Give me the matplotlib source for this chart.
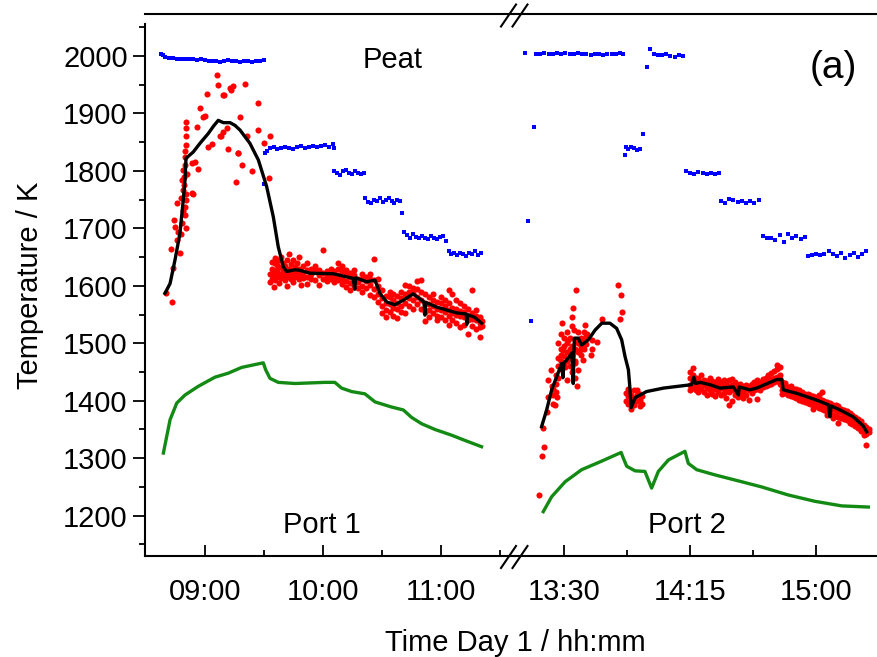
import matplotlib
matplotlib.use("Agg")
import matplotlib.pyplot as plt
from matplotlib.lines import Line2D
from matplotlib.ticker import FixedLocator, MultipleLocator, FuncFormatter

plt.rcParams['font.family'] = ['Liberation Sans', 'DejaVu Sans']

# all times are minutes after midnight, temperatures in K

# ---- port 1 (left part of the broken axis) ----
blue_left = [
    (518, 2004), (519, 2001), (520, 1999), (522, 1997), (524, 1996), (526, 1995),
    (528, 1995), (530, 1994), (532, 1995), (534, 1994), (536, 1993), (538, 1994),
    (540, 1993), (542, 1992), (544, 1991), (546, 1992), (548, 1990), (550, 1991),
    (552, 1993), (554, 1992), (556, 1991), (558, 1990), (560, 1992), (562, 1991),
    (564, 1990), (566, 1992), (568, 1991), (570, 1993),
    (570.7, 1831), (570.2, 1777),
    (571.5, 1835), (573, 1840), (575, 1841), (577, 1839), (579, 1840), (581, 1842),
    (583, 1840), (585, 1838), (587, 1841), (589, 1843), (591, 1840), (593, 1842),
    (595, 1844), (597, 1841), (599, 1843), (601, 1845), (603, 1842), (605, 1846),
    (606, 1840),
    (606, 1800), (607.5, 1797), (609, 1793), (610.5, 1799), (612, 1802), (613.5, 1796),
    (615, 1795), (616.5, 1799), (618, 1797), (619.5, 1794), (621, 1796),
    (621.5, 1752), (623, 1746), (624.5, 1744), (626, 1750), (627.5, 1748), (629, 1752),
    (630.5, 1746), (632, 1749), (633.5, 1753), (635, 1747), (636.5, 1745), (638, 1750),
    (639.5, 1748), (640.5, 1727),
    (641.5, 1693), (643, 1688), (644.5, 1684), (646, 1690), (647.5, 1685), (649, 1683),
    (650.5, 1687), (652, 1684), (653.5, 1682), (655, 1686), (656.5, 1684), (658, 1681),
    (659.5, 1685), (661, 1687), (662.5, 1678),
    (664, 1660), (665.5, 1655), (667, 1657), (668.5, 1653), (670, 1658), (671.5, 1656),
    (673, 1652), (674.5, 1657), (676, 1655), (677.5, 1660), (679, 1654), (680.5, 1657),
]

red_left_rise = [
    (520.2, 1587), (523.5, 1572), (524, 1631), (522.9, 1664), (527.4, 1658), (524.9, 1703),
    (524.5, 1715), (526.6, 1694), (525.8, 1744), (528, 1752), (528.3, 1784), (529.1, 1767),
    (530, 1738), (530, 1723), (530.3, 1749), (533.9, 1759), (529.1, 1802), (530, 1834),
    (530.3, 1860), (530.3, 1874), (530.3, 1886), (535.1, 1815), (536.7, 1803), (535.9, 1877),
    (537.6, 1909), (540.2, 1896), (541, 1934), (541.8, 1842), (543.6, 1846), (548.3, 1860),
    (549.5, 1868), (551.2, 1874), (549.8, 1932), (553.4, 1941), (552, 1838), (556.8, 1832),
    (558.8, 1810), (555.8, 1781), (557.9, 1894), (561.4, 1861), (563.9, 1799), (566.9, 1918),
    (567.3, 1872), (570.3, 1849), (573.2, 1861), (572.7, 1787), (546.1, 1967), (546.9, 1950),
    (552.9, 1944), (554.5, 1947), (549.5, 1932), (560.5, 1951), (539.3, 1894), (547.8, 1860),
    (557.1, 1831), (533.4, 1813), (533.4, 1761), (529.5, 1790), (529.8, 1810),
    (530.2, 1825), (530.5, 1845), (529.6, 1775), (529.2, 1730), (530.4, 1700), (528.5, 1710),
    (527.8, 1690), (526, 1680), (530.6, 1760), (531, 1795),
]

# dense cloud after the drop: (time, values at that time)
red_left_cloud = [
    (573, [1607, 1620]), (574, [1612, 1630, 1642]), (575, [1619, 1598, 1625]),
    (576, [1639, 1610, 1622, 1648]), (577, [1628, 1615, 1636]), (578, [1620, 1645, 1605]),
    (579, [1613, 1632, 1651]), (580, [1626, 1618, 1640]), (581, [1634, 1610, 1622]),
    (582, [1625, 1645, 1615, 1600]), (583, [1630, 1620, 1655]), (584, [1618, 1638, 1612]),
    (585, [1627, 1645, 1606]), (586, [1622, 1633, 1615]), (587, [1640, 1618, 1628]),
    (588, [1612, 1630, 1650]), (589, [1625, 1619, 1602]), (590, [1635, 1622, 1613]),
    (592, [1628, 1616, 1640, 1604]), (594, [1620, 1630, 1612]), (596, [1625, 1610, 1635]),
    (598, [1618, 1602, 1628]), (600, [1622, 1662, 1612]), (602, [1626, 1615, 1608]),
    (604, [1620, 1612, 1630]), (606, [1616, 1625, 1606]), (608, [1618, 1610, 1630, 1640]),
    (610, [1612, 1625, 1604, 1635]), (612, [1620, 1608, 1628, 1598]),
    (614, [1615, 1605, 1622, 1592]), (616, [1610, 1618, 1600, 1628]), (618, [1606, 1612, 1596]),
    (620, [1612, 1600, 1620, 1590]), (622, [1608, 1596, 1616]), (624, [1602, 1584, 1612, 1620]),
    (626, [1595, 1610, 1646, 1580]), (628, [1585, 1600, 1572, 1612]),
    (630, [1578, 1565, 1592, 1552]), (632, [1570, 1582, 1558, 1545]),
    (634, [1568, 1581, 1555, 1590]), (636, [1562, 1575, 1548, 1585]),
    (638, [1570, 1544, 1582, 1560]), (640, [1578, 1565, 1590, 1555]),
    (642, [1585, 1601, 1570, 1552]), (644, [1590, 1578, 1600, 1565]),
    (646, [1588, 1575, 1596, 1560]), (648, [1580, 1595, 1568, 1608]),
    (650, [1576, 1590, 1560, 1610]), (652, [1570, 1585, 1555, 1538]),
    (654, [1568, 1580, 1558, 1545]), (656, [1565, 1575, 1552, 1585]),
    (658, [1560, 1572, 1548, 1540]), (660, [1558, 1570, 1545, 1580]),
    (662, [1555, 1565, 1540, 1575]), (664, [1558, 1548, 1570, 1593, 1532]),
    (666, [1552, 1562, 1540, 1585]), (668, [1550, 1560, 1535, 1575]),
    (670, [1548, 1556, 1529, 1570]), (672, [1545, 1555, 1532, 1565]),
    (674, [1548, 1540, 1560, 1517]), (676, [1542, 1552, 1530, 1593]),
    (678, [1540, 1548, 1525, 1558]), (680, [1535, 1545, 1511, 1528]), (681, [1538, 1530]),
]

black_left = [
    (519.8, 1587), (522.4, 1604), (524.9, 1645), (527.4, 1691), (529.1, 1749), (530, 1784),
    (530.5, 1822), (534.2, 1833), (537.6, 1848), (541.8, 1865), (544.5, 1878), (546.9, 1888),
    (549.5, 1884), (552.9, 1884), (555.5, 1879), (558, 1871), (563, 1848), (567.3, 1819),
    (571.5, 1773), (574.9, 1720), (577.4, 1668), (580, 1633), (581.7, 1625), (586, 1628),
    (588.4, 1627), (593.5, 1622), (605.4, 1621), (615.5, 1613), (616.3, 1594), (616.8, 1614),
    (622.4, 1607), (626.6, 1610), (629.1, 1587), (632.5, 1572), (636.7, 1567), (641, 1575),
    (646, 1586), (651.5, 1572), (652, 1549), (652.5, 1571), (658, 1563), (663, 1558),
    (668, 1553), (673, 1551), (673.3, 1533), (673.6, 1550), (677.4, 1545), (680.8, 1535),
]

green_left = [
    (519, 1309), (522.4, 1367), (525.8, 1396), (530, 1410), (536.7, 1425), (545.2, 1441),
    (552, 1448), (558.8, 1458), (565.6, 1463), (569.8, 1466), (571, 1454), (573.2, 1439),
    (577.4, 1432), (585.9, 1430), (601.2, 1432), (606.2, 1432), (609.6, 1422), (614.7, 1416),
    (621.5, 1412), (626.6, 1398), (635.1, 1389), (641, 1384), (645.2, 1371), (650.3, 1360),
    (657.1, 1350), (665.6, 1340), (672.3, 1331), (680.8, 1320),
]

# ---- port 2 (right part) ----
blue_right = [
    (796.1, 2006), (799.4, 1877), (797, 1713), (798.2, 1539),
    (800, 2004), (801.5, 2003), (803, 2005), (804.5, 2004), (806, 2003), (807.5, 2005),
    (809, 2004), (810.5, 2006), (812, 2003), (813.5, 2004), (815, 2005), (816.5, 2003),
    (818, 2004), (819.5, 2002), (821, 2003), (822.5, 2004), (824, 2002), (825.5, 2003),
    (827, 2004), (828.5, 2003), (830, 2005), (831, 2004),
    (831.8, 1828), (832, 1841), (833, 1838), (834, 1842), (835, 1840), (836, 1837), (837, 1839),
    (838.1, 1864), (839.5, 1980), (840.7, 2012),
    (842, 2004), (843.5, 2002), (845, 2001), (846.5, 2003), (848, 2000), (849.5, 1999),
    (851, 2001), (852.5, 2000),
    (853.5, 1800), (855, 1797), (856.5, 1795), (858, 1798), (859.5, 1796), (861, 1794),
    (862.5, 1797), (864, 1795), (865.5, 1796),
    (866, 1748), (867.5, 1745), (869, 1751), (870.5, 1749), (872, 1746), (873.5, 1748),
    (875, 1744), (876.5, 1747), (878, 1745), (879.5, 1749),
    (881, 1686), (882.5, 1683), (884, 1684), (885.5, 1680), (887, 1689), (888.5, 1677),
    (890, 1691), (891.5, 1684), (893, 1687), (894.5, 1682), (896, 1685),
    (897, 1652), (898.5, 1654), (900, 1655), (901.5, 1653), (903, 1656), (904.5, 1661),
    (906, 1655), (907.5, 1652), (909, 1657), (910.5, 1649), (912, 1654), (913.5, 1658),
    (915, 1651), (916.5, 1655), (918, 1660),
]

red_right_rise = [
    (801.2, 1236), (802, 1303), (802.6, 1352), (802.8, 1320), (803.8, 1381), (804.4, 1436),
    (804.4, 1407), (805.6, 1425), (805.4, 1454), (806.8, 1393), (807.4, 1407), (808, 1500),
    (809, 1517), (809.4, 1535), (809.8, 1488), (810.4, 1459), (811, 1436), (811.5, 1506),
    (812.8, 1546), (813.3, 1561), (814.2, 1593), (813.7, 1523), (813.9, 1465), (814.5, 1425),
    (815.1, 1454), (815.7, 1488), (816.9, 1471), (817.5, 1532), (818.1, 1517), (819.6, 1480),
    (821.7, 1503), (823.5, 1543), (829.4, 1601), (830.4, 1584), (830.8, 1555), (830, 1543),
]

red_right_cloud = [
    (806, [1395, 1410, 1420]), (807, [1430, 1445, 1415]), (808, [1460, 1440, 1475]),
    (809, [1470, 1490, 1455, 1480]), (810, [1478, 1495, 1465, 1510]),
    (811, [1485, 1470, 1500, 1520]), (812, [1490, 1475, 1510, 1460]),
    (813, [1495, 1480, 1530, 1450]), (814, [1505, 1490, 1470, 1440]),
    (815, [1500, 1520, 1485]), (816, [1510, 1495, 1480]), (817, [1505, 1520, 1490]),
    (818, [1498, 1512]), (820, [1505, 1490]),
    (832, [1413, 1400]), (833, [1395, 1408, 1420]), (834, [1398, 1385, 1410]),
    (835, [1405, 1392, 1418]), (836, [1419, 1400, 1410]), (837, [1401, 1412, 1390]),
    (838, [1408, 1395]),
    (855, [1428, 1440, 1418, 1450]), (856, [1435, 1422, 1445, 1457]), (857, [1430, 1418, 1440]),
    (858, [1425, 1438, 1415]), (859, [1432, 1420, 1444]), (860, [1428, 1415, 1436]),
    (861, [1422, 1434, 1410]), (862, [1430, 1418, 1440]), (863, [1425, 1412, 1435]),
    (864, [1420, 1432, 1408]), (865, [1428, 1416, 1438]), (866, [1422, 1410, 1432]),
    (867, [1426, 1414, 1436]), (868, [1420, 1430, 1405]), (869, [1425, 1415, 1436, 1393]),
    (870, [1428, 1418, 1438, 1400]), (871, [1422, 1432, 1410]), (872, [1418, 1428, 1406]),
    (873, [1420, 1412, 1430]), (874, [1416, 1425, 1405]), (875, [1420, 1410, 1428]),
    (876, [1418, 1426, 1402]), (877, [1422, 1414, 1430]), (878, [1425, 1418, 1432]),
    (879, [1428, 1420, 1436, 1403]), (880, [1426, 1432, 1418]), (881, [1430, 1424, 1438]),
    (882, [1432, 1426, 1440]), (883, [1435, 1428, 1445]), (884, [1438, 1430, 1448]),
    (885, [1440, 1432, 1452]), (886, [1442, 1435, 1455, 1462]), (887, [1438, 1445, 1430, 1458]),
    (888, [1425, 1418, 1432, 1412]), (889, [1420, 1414, 1428, 1431]), (890, [1416, 1410, 1424]),
    (891, [1418, 1408, 1425]), (892, [1414, 1406, 1420]), (893, [1412, 1405, 1420]),
    (894, [1410, 1402, 1418]), (895, [1408, 1400, 1416]), (896, [1405, 1398, 1412]),
    (897, [1404, 1396, 1412]), (898, [1402, 1394, 1410]), (899, [1400, 1392, 1408, 1385]),
    (900, [1398, 1390, 1406]), (901, [1396, 1388, 1404, 1410]), (902, [1394, 1386, 1402, 1416]),
    (903, [1392, 1384, 1400]), (904, [1390, 1380, 1398, 1375]), (905, [1388, 1378, 1396]),
    (906, [1386, 1376, 1392, 1370]), (907, [1384, 1374, 1392]), (908, [1382, 1372, 1390, 1361]),
    (909, [1380, 1370, 1386]), (910, [1378, 1368, 1384, 1374]), (911, [1375, 1366, 1382]),
    (912, [1372, 1362, 1378]), (913, [1370, 1360, 1376]), (914, [1366, 1356, 1372]),
    (915, [1362, 1352, 1368]), (916, [1358, 1348, 1364]), (917, [1352, 1345, 1358, 1340]),
    (918, [1348, 1342, 1355, 1323]), (919, [1345, 1350]),
]

black_right = [
    (802, 1355), (803.8, 1384), (805.6, 1419), (807.4, 1442), (809.2, 1465), (809.6, 1440),
    (810, 1466), (811, 1471), (812.8, 1483), (813.3, 1430), (813.7, 1509), (815.1, 1509),
    (816.3, 1497), (818.7, 1506), (821.1, 1523), (823.5, 1535), (826.4, 1535), (828.8, 1526),
    (830.6, 1506), (831.8, 1477), (833, 1454), (833.6, 1419), (834, 1388), (835.4, 1405),
    (836, 1407), (839.5, 1416), (845.5, 1422), (855.6, 1428), (856.4, 1441), (857, 1430),
    (858.6, 1432), (862.1, 1428), (865.7, 1422), (870.5, 1424), (872.3, 1410), (872.6, 1424),
    (876.4, 1419), (878.8, 1422), (886, 1437), (887.8, 1437), (888.3, 1419), (893.1, 1413),
    (900.3, 1401), (904.4, 1393), (905, 1372), (905.4, 1391), (908.6, 1384), (913.3, 1372),
    (916.9, 1356), (918.1, 1346),
]

green_right = [
    (802.6, 1207), (805.6, 1233), (810.4, 1259), (816.3, 1280), (823.5, 1295), (830.4, 1310),
    (831.2, 1300), (832.4, 1286), (835.4, 1278), (838.9, 1277), (841.3, 1248), (843.7, 1277),
    (847.3, 1297), (853.2, 1312), (854.4, 1291), (857.4, 1280), (863.9, 1271), (873.5, 1259),
    (880.6, 1250), (890.1, 1236), (899.6, 1225), (909.2, 1217), (918.7, 1215),
]

left_ticks = [540, 600, 660]
left_minor = [570, 630, 690]
right_ticks = [810, 855, 900]
right_minor = [832.5, 877.5]


def unzip(pairs):
    return [p[0] for p in pairs], [p[1] for p in pairs]


def spread(rows):
    xs, ys = [], []
    for t, vals in rows:
        for v in vals:
            xs.append(t)
            ys.append(v)
    return xs, ys


def hhmm(t, pos=None):
    return "%02d:%02d" % (int(t // 60), int(round(t % 60)))


W, H = 877, 657
fig = plt.figure(figsize=(W / 100, H / 100), dpi=100)
ax1 = fig.add_axes([145 / W, 1 - 556 / H, 370 / W, 542 / H])
ax2 = fig.add_axes([515 / W, 1 - 556 / H, 362 / W, 542 / H], sharey=ax1)

panels = [
    (ax1, blue_left, red_left_rise, red_left_cloud, black_left, green_left, (509.65, 697.8)),
    (ax2, blue_right, red_right_rise, red_right_cloud, black_right, green_right, (792.5, 921.8)),
]
for ax, blue, rrise, rcloud, black, green, xl in panels:
    bx, by = unzip(blue)
    ax.plot(bx, by, ls='none', marker='s', ms=3.5, color='#0000ff', mew=0, zorder=3)
    rx, ry = unzip(rrise)
    cx, cy = spread(rcloud)
    ax.plot(rx + cx, ry + cy, ls='none', marker='o', ms=4.4, color='#ff0000', mew=0, zorder=2)
    kx, ky = unzip(black)
    ax.plot(kx, ky, color='black', lw=2.4, zorder=4, solid_joinstyle='round')
    gx, gy = unzip(green)
    ax.plot(gx, gy, color='#138a13', lw=2.4, zorder=4, solid_joinstyle='round')
    ax.set_xlim(*xl)
    for s in ax.spines.values():
        s.set_linewidth(1.5)
    ax.tick_params(axis='x', direction='in', length=8, width=1.3, pad=16, labelsize=21)
    ax.tick_params(axis='x', which='minor', direction='in', length=4.5, width=1.3)
    ax.xaxis.set_major_formatter(FuncFormatter(hhmm))

ax1.set_ylim(1129.8, 2073.1)
ax1.yaxis.set_major_locator(MultipleLocator(100))
ax1.yaxis.set_minor_locator(MultipleLocator(50))
ax1.tick_params(axis='y', direction='out', length=8.5, width=1.3, pad=4, labelsize=21)
ax1.tick_params(axis='y', which='minor', direction='out', length=4.5, width=1.3)
ax1.spines['left'].set_bounds(1129.8, 2056)
ax1.spines['right'].set_visible(False)
ax2.spines['left'].set_visible(False)
ax2.spines['right'].set_visible(False)
ax2.tick_params(axis='y', which='both', left=False, labelleft=False)

ax1.xaxis.set_major_locator(FixedLocator(left_ticks))
ax1.xaxis.set_minor_locator(FixedLocator(left_minor))
ax2.xaxis.set_major_locator(FixedLocator(right_ticks))
ax2.xaxis.set_minor_locator(FixedLocator(right_minor))

# labels
ax1.text(0.669, 0.900, "Peat", transform=ax1.transAxes, ha='center', va='baseline', fontsize=21)
ax1.text(0.478, 0.042, "Port 1", transform=ax1.transAxes, ha='center', va='baseline', fontsize=21)
ax2.text(0.474, 0.042, "Port 2", transform=ax2.transAxes, ha='center', va='baseline', fontsize=21)
ax2.text(0.880, 0.8995, "(a)", transform=ax2.transAxes, ha='center', va='center', fontsize=28)
fig.text(30 / W, 1 - 285 / H, "Temperature / K", rotation=90, ha='center', va='center', fontsize=21)
fig.text(515 / W, 1 - 651 / H, "Time Day 1 / hh:mm", ha='center', va='baseline', fontsize=21)

# axis break marks (pixel positions of the slashes)
for yc in (15.5, 557):
    for xc in (508.5, 520):
        fig.add_artist(Line2D([(xc - 7.5) / W, (xc + 7.5) / W],
                              [1 - (yc + 11) / H, 1 - (yc - 11) / H],
                              transform=fig.transFigure, color='black', lw=1.5))

fig.savefig("out.png", dpi=100)
